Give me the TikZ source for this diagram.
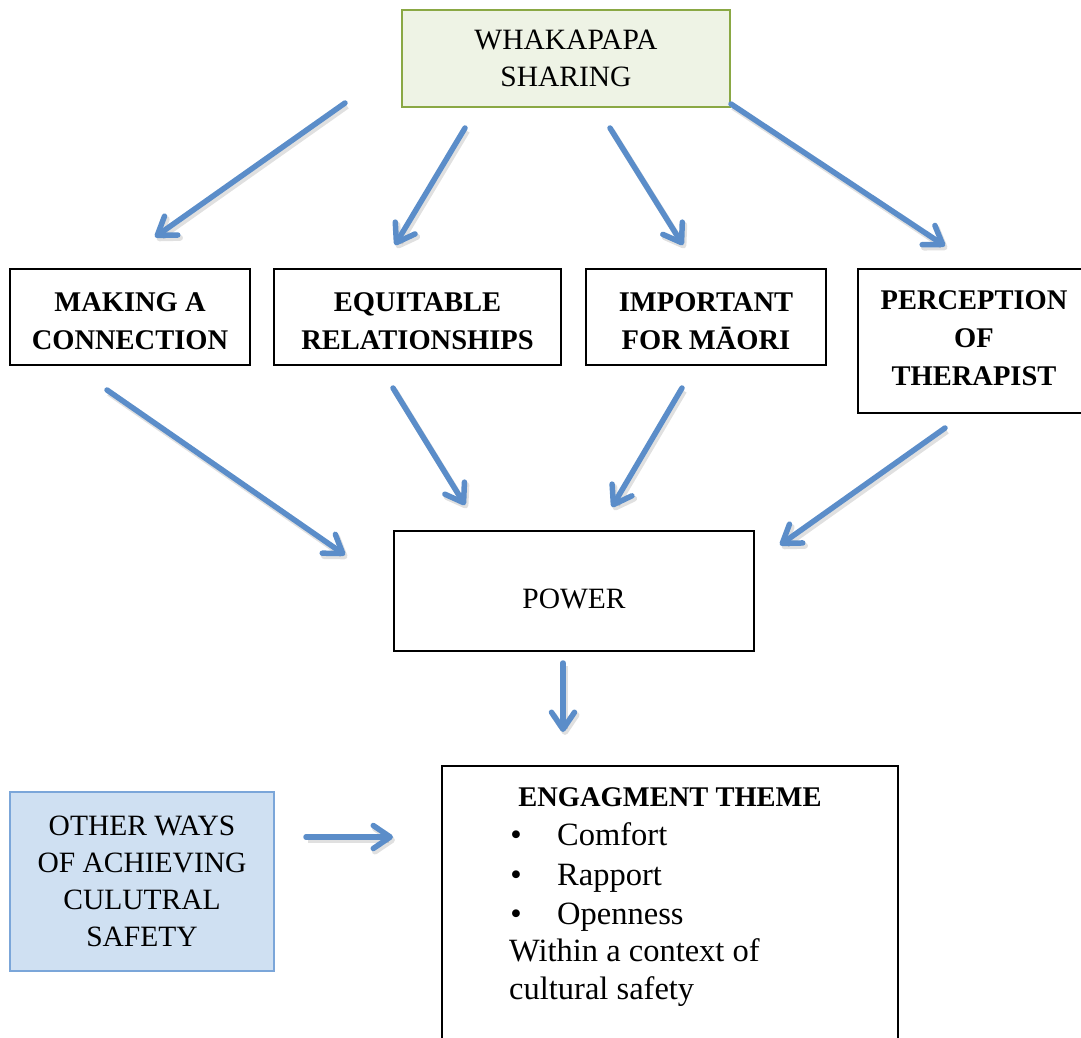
\documentclass[tikz,border=0pt]{standalone}
\usepackage{fontspec}
\setmainfont{Liberation Serif}
\usetikzlibrary{arrows.meta}
\definecolor{arrblue}{HTML}{5B8DC9}
\definecolor{topfill}{HTML}{EEF3E5}
\definecolor{topdraw}{HTML}{8AA844}
\definecolor{bluefill}{HTML}{CFE0F2}
\definecolor{bluedraw}{HTML}{7BA6D9}
\begin{document}
\begin{tikzpicture}[x=1pt,y=-1pt,
  box/.style={draw=black, line width=1.5pt, inner sep=0pt, align=center, anchor=center},
  boldtxt/.style={font=\fontsize{28.5}{38}\selectfont\bfseries},
  regtxt/.style={font=\fontsize{29.5}{37}\selectfont},
  engtxt/.style={font=\fontsize{32.5}{39}\selectfont, inner sep=0pt, anchor=base west},
  arr/.style={draw=arrblue, line width=5.5pt, line cap=round,
    -{Straight Barb[length=17pt,width=23pt,line cap=round,line join=round]},
    preaction={draw=black, opacity=0.12, line width=6pt,
      transform canvas={xshift=2pt,yshift=-3pt}}}]
\useasboundingbox (0,0) rectangle (1081,1038);
\clip (0,0) rectangle (1081,1038);

% boxes
\node[box, draw=topdraw, fill=topfill, line width=2pt, minimum width=328pt, minimum height=97pt, regtxt]
  (top) at (566,58.5) {WHAKAPAPA\\SHARING};
\node[box, minimum width=240pt, minimum height=96pt, boldtxt]
  (making) at (130,317) {\raisebox{-10pt}[0pt][0pt]{\parbox{230pt}{\centering MAKING A\\CONNECTION}}};
\node[box, minimum width=287pt, minimum height=96pt, boldtxt]
  (equit) at (417.5,317) {\raisebox{-10pt}[0pt][0pt]{\parbox{280pt}{\centering EQUITABLE\\RELATIONSHIPS}}};
\node[box, minimum width=240pt, minimum height=96pt, boldtxt]
  (maori) at (706,317) {\raisebox{-10pt}[0pt][0pt]{\parbox{230pt}{\centering IMPORTANT\\FOR M\={A}ORI}}};
\node[box, minimum width=232pt, minimum height=144pt, boldtxt]
  (percep) at (974,341) {\raisebox{-3pt}[0pt][0pt]{\parbox{225pt}{\centering PERCEPTION\\OF\\THERAPIST}}};
\node[box, minimum width=360pt, minimum height=120pt, regtxt]
  (power) at (574,591) {\raisebox{-17pt}[0pt][0pt]{POWER}};
\node[box, draw=bluedraw, fill=bluefill, line width=2pt, minimum width=264pt, minimum height=179pt, regtxt]
  (other) at (142,881.5) {OTHER WAYS\\OF ACHIEVING\\CULUTRAL\\SAFETY};
\node[box, minimum width=456pt, minimum height=290pt]
  (engage) at (670,911) {};

% engagement content
\node[boldtxt, inner sep=0pt, anchor=base] (engtitle) at (670,806) {ENGAGMENT THEME};
\node[engtxt, anchor=base] (b1) at (516,845) {•};
\node[engtxt] (t1) at (557,845) {Comfort};
\node[engtxt, anchor=base] (b2) at (516,885) {•};
\node[engtxt] (t2) at (557,885) {Rapport};
\node[engtxt, anchor=base] (b3) at (516,924) {•};
\node[engtxt] (t3) at (557,924) {Openness};
\node[engtxt] (w1) at (509,961) {Within a context of};
\node[engtxt] (w2) at (509,999) {cultural safety};

% arrow end points
\coordinate (a1s) at (345,103);  \coordinate (a1e) at (155,237);
\coordinate (a2s) at (465,128);  \coordinate (a2e) at (395,245);
\coordinate (a3s) at (610,128);  \coordinate (a3e) at (683,245);
\coordinate (a4s) at (731,104);  \coordinate (a4e) at (945,246);
\coordinate (b1s) at (107,390);  \coordinate (b1e) at (345,555);
\coordinate (b2s) at (393,388);  \coordinate (b2e) at (465,505);
\coordinate (b3s) at (682,388);  \coordinate (b3e) at (612,507);
\coordinate (b4s) at (945,428);  \coordinate (b4e) at (780,545);
\coordinate (c1s) at (563,663);  \coordinate (c1e) at (563,732);
\coordinate (d1s) at (306,837);  \coordinate (d1e) at (393,837);

\draw[arr] (a1s) -- (a1e);
\draw[arr] (a2s) -- (a2e);
\draw[arr] (a3s) -- (a3e);
\draw[arr] (a4s) -- (a4e);
\draw[arr] (b1s) -- (b1e);
\draw[arr] (b2s) -- (b2e);
\draw[arr] (b3s) -- (b3e);
\draw[arr] (b4s) -- (b4e);
\draw[arr] (c1s) -- (c1e);
\draw[arr] (d1s) -- (d1e);
\end{tikzpicture}
\end{document}
